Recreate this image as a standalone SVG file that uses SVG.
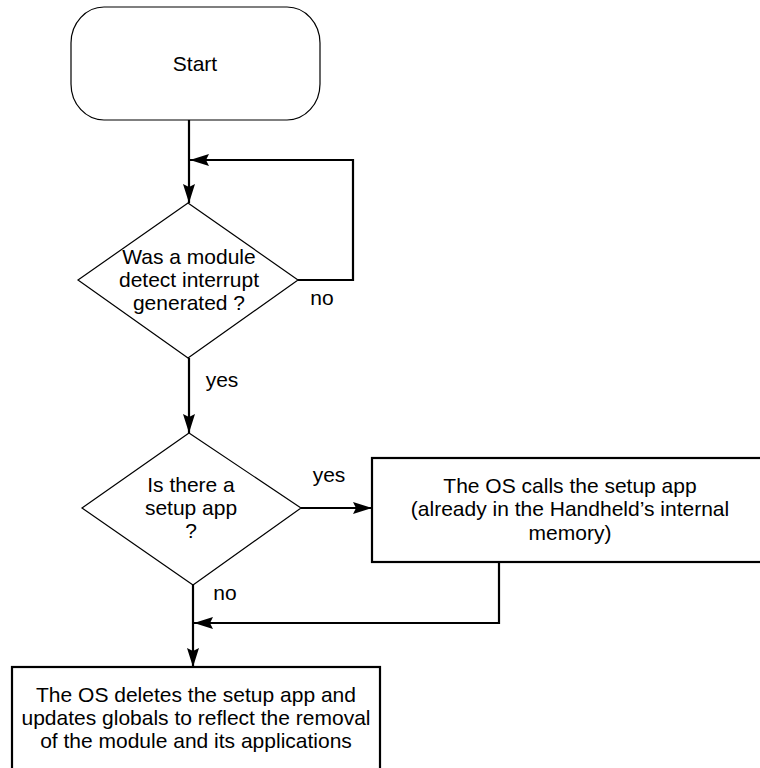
<svg xmlns="http://www.w3.org/2000/svg" width="760" height="768" viewBox="0 0 760 768">
  <defs>
    <marker id="arrow" markerWidth="19" markerHeight="12" refX="19" refY="6" orient="auto" markerUnits="userSpaceOnUse">
      <path d="M0,0 L19,6 L0,12 L3,6 z" fill="#000"/>
    </marker>
  </defs>
  <style>
    text { font-family: "Liberation Sans", Arial, sans-serif; font-size: 21px; fill: #000; text-anchor: middle; }
    .thin { fill: #fff; stroke: #000; stroke-width: 1.2; }
    .box { fill: #fff; stroke: #000; stroke-width: 2.2; }
    .conn { fill: none; stroke: #000; stroke-width: 2.2; }
  </style>
  <rect width="760" height="768" fill="#fff"/>

  <g id="start">
    <rect class="thin" x="71" y="7" width="249" height="113" rx="33" ry="36"/>
    <text x="195" y="71">Start</text>
  </g>

  <g id="interrupt-check">
    <polygon class="thin" points="188,203 298,280 188,358 78,280"/>
    <text x="189" y="264">Was a module</text>
    <text x="189" y="287">detect interrupt</text>
    <text x="189" y="310">generated ?</text>
  </g>

  <g id="setup-check">
    <polygon class="thin" points="189,433 301,508 193,585 82,508"/>
    <text x="191" y="492">Is there a</text>
    <text x="191" y="515">setup app</text>
    <text x="191" y="538">?</text>
  </g>

  <g id="call-setup">
    <rect class="box" x="372" y="458" width="400" height="104"/>
    <text x="570" y="493">The OS calls the setup app</text>
    <text x="570" y="516">(already in the Handheld’s internal</text>
    <text x="570" y="540">memory)</text>
  </g>

  <g id="delete-setup">
    <rect class="box" x="12" y="667" width="368" height="120"/>
    <text x="196" y="702">The OS deletes the setup app and</text>
    <text x="196" y="725">updates globals to reflect the removal</text>
    <text x="196" y="748">of the module and its applications</text>
  </g>

  <g id="connectors">
    <path class="conn" d="M189,120 V203" marker-end="url(#arrow)"/>
    <path class="conn" d="M298,280 H353 V160 H190" marker-end="url(#arrow)"/>
    <path class="conn" d="M189,358 V433" marker-end="url(#arrow)"/>
    <path class="conn" d="M301,508 H372" marker-end="url(#arrow)"/>
    <path class="conn" d="M499,562 V623 H194" marker-end="url(#arrow)"/>
    <path class="conn" d="M193,585 V667" marker-end="url(#arrow)"/>
    <text x="322" y="305">no</text>
    <text x="222" y="387">yes</text>
    <text x="329" y="482">yes</text>
    <text x="225" y="600">no</text>
  </g>
</svg>
